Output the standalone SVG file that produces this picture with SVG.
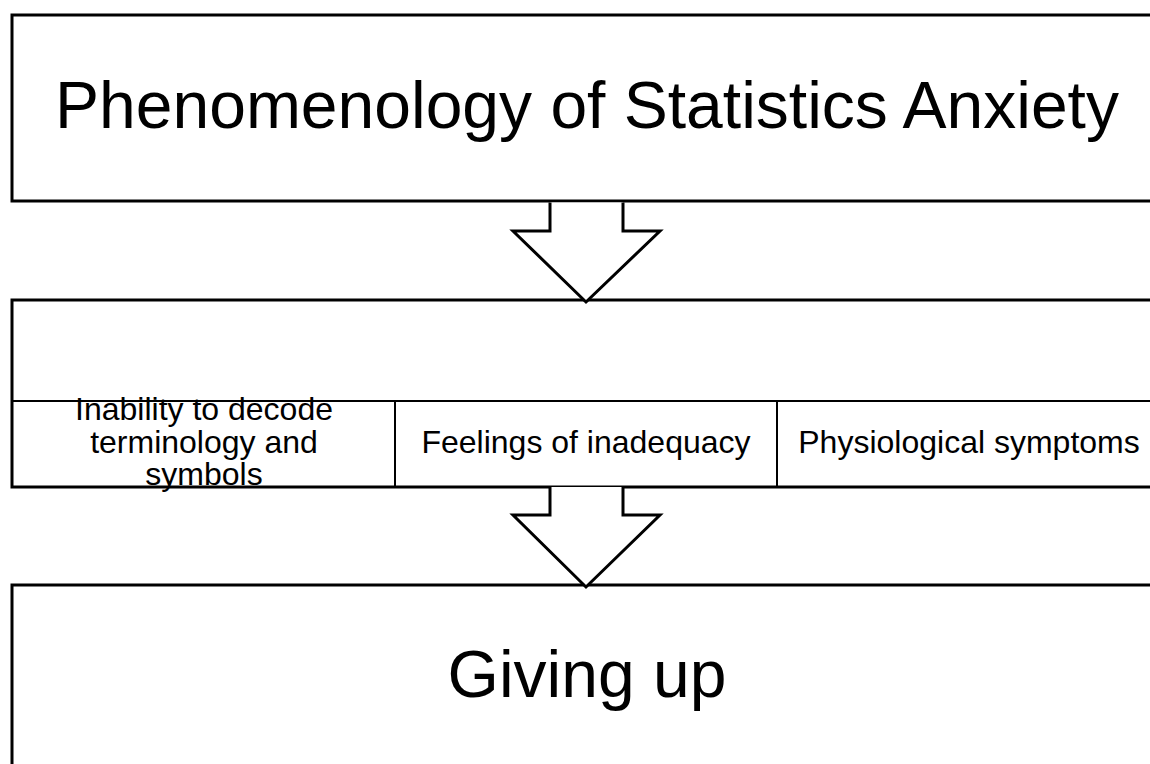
<svg xmlns="http://www.w3.org/2000/svg" width="1150" height="764" viewBox="0 0 1150 764">
<style>
.box{fill:#fff;stroke:#000;stroke-width:3}
.cell{fill:none;stroke:#000;stroke-width:2}
.arrow{fill:#fff;stroke:#000;stroke-width:3;stroke-linejoin:miter}
.big{font-family:"Liberation Sans",Arial,sans-serif;font-size:66px;fill:#000;text-anchor:middle}
.small{font-family:"Liberation Sans",Arial,sans-serif;font-size:32px;fill:#000;text-anchor:middle}
</style>
<rect width="1150" height="764" fill="#fff"/>
<g id="node-title">
<rect class="box" x="12" y="15" width="1150" height="186"/>
<text class="big" x="587" y="128">Phenomenology of Statistics Anxiety</text>
</g>
<g id="node-symptoms">
<rect class="box" x="12" y="300" width="1150" height="187"/>
<line class="cell" x1="12" y1="401" x2="1162" y2="401"/>
<line class="cell" x1="395" y1="401" x2="395" y2="487"/>
<line class="cell" x1="777" y1="401" x2="777" y2="487"/>
<text class="small" x="204" y="420">Inability to decode</text>
<text class="small" x="204" y="453">terminology and</text>
<text class="small" x="204" y="485">symbols</text>
<text class="small" x="586" y="453">Feelings of inadequacy</text>
<text class="small" x="969" y="453">Physiological symptoms</text>
</g>
<g id="node-giving-up">
<rect class="box" x="12" y="585" width="1150" height="200"/>
<text class="big" x="587" y="697">Giving up</text>
</g>
<g id="connectors">
<path class="arrow" d="M550,202.5 L550,231 L513,231 L586,302 L660,231 L623,231 L623,202.5"/>
<path class="arrow" d="M550,487 L550,515 L513,515 L586,587 L660,515 L623,515 L623,487"/>
</g>
</svg>
